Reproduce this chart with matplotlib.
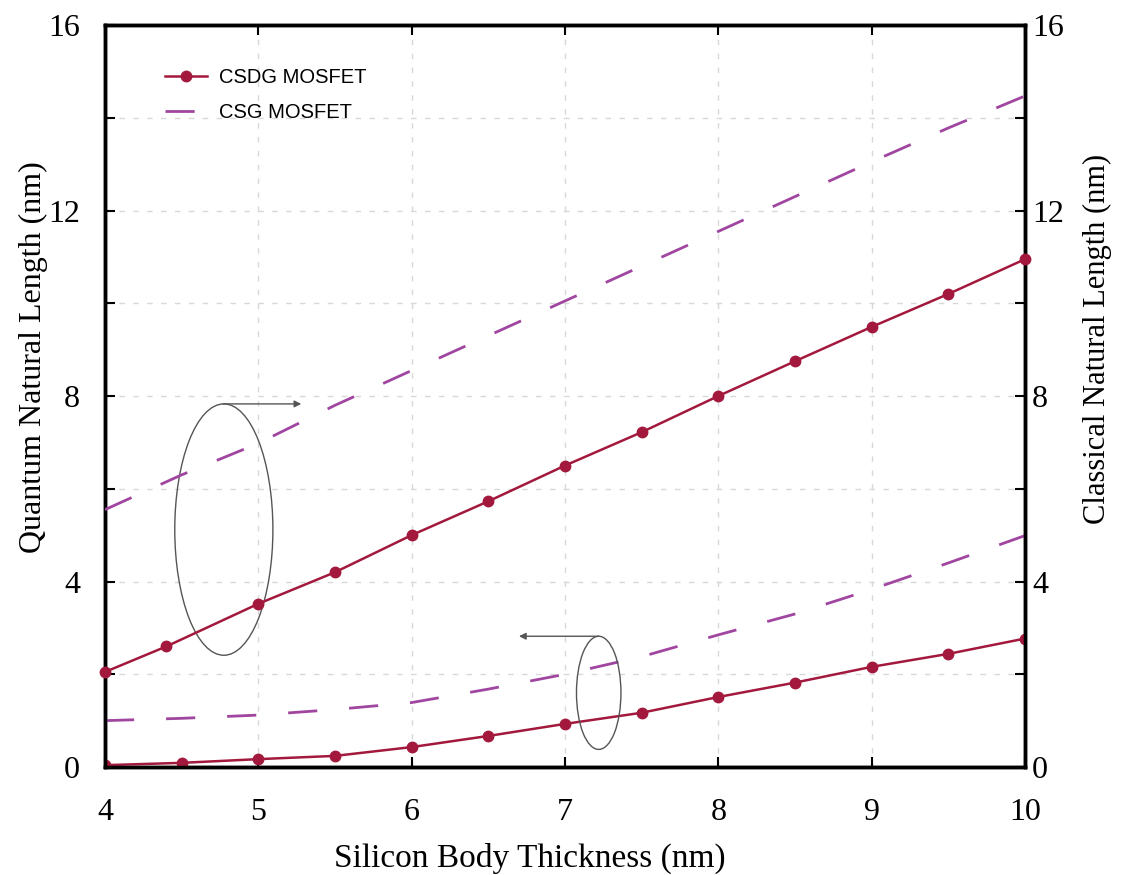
import numpy as np
import matplotlib.pyplot as plt
from matplotlib.patches import Ellipse

# silicon body thickness (nm)
x_quant = [4, 4.5, 5, 5.5, 6, 6.5, 7, 7.5, 8, 8.5, 9, 9.5, 10]
x_class = [4, 4.4, 5, 5.5, 6, 6.5, 7, 7.5, 8, 8.5, 9, 9.5, 10]
x_csg = [4, 4.5, 5, 5.5, 6, 6.5, 7, 7.5, 8, 8.5, 9, 9.5, 10]

# quantum natural length (left axis)
csdg_quant = [0.04, 0.09, 0.17, 0.24, 0.43, 0.67, 0.93, 1.17, 1.51, 1.82, 2.16, 2.44, 2.77]
csg_quant = [1.0, 1.05, 1.12, 1.24, 1.39, 1.68, 2.0, 2.38, 2.85, 3.3, 3.83, 4.4, 4.99]

# classical natural length (right axis)
csdg_class = [2.05, 2.6, 3.52, 4.2, 5.0, 5.73, 6.5, 7.22, 8.0, 8.75, 9.49, 10.2, 10.95]
csg_class = [5.55, 6.3, 6.98, 7.8, 8.55, 9.3, 10.05, 10.8, 11.55, 12.3, 13.05, 13.78, 14.47]

red = '#a3193d'
purple = '#a046a0'
serif = ['Liberation Serif', 'DejaVu Serif']

W, H = 1123, 875
fig = plt.figure(figsize=(W / 100, H / 100), dpi=100)
ax = fig.add_axes([0.0935, 0.1234, 0.8192, 0.848])
ax2 = ax.twinx()

l1, = ax.plot(x_quant, csdg_quant, color=red, lw=1.8, marker='o', ms=7.5,
              label='CSDG MOSFET', zorder=5)
l2, = ax.plot(x_csg, csg_quant, color=purple, lw=2.0, dashes=(10.5, 11.5),
              label='CSG MOSFET', zorder=4)
ax2.plot(x_class, csdg_class, color=red, lw=1.8, marker='o', ms=7.5,
         clip_on=False, zorder=5)
ax2.plot(x_csg, csg_class, color=purple, lw=2.0, dashes=(10.5, 11.5), zorder=4)

for a in (ax, ax2):
    a.set_xlim(4, 10)
    a.set_ylim(0, 16)
    a.set_yticks(np.arange(0, 17, 4))
    a.set_yticks(np.arange(2, 16, 4), minor=True)
    for s in a.spines.values():
        s.set_linewidth(2.5)
    a.tick_params(which='both', direction='in', length=7, width=1.5,
                  labelsize=23)
    for lab in a.get_yticklabels():
        lab.set_family(serif)

ax.tick_params(axis='y', pad=18)
ax2.tick_params(axis='y', pad=5)
ax.set_xticks(np.arange(4, 11, 1))
ax.tick_params(axis='x', top=True, pad=22)
for lab in ax.get_xticklabels():
    lab.set_family(serif)

ax.grid(True, which='both', color='#d8d8d8', lw=1.0, dashes=(4, 6))
ax.set_axisbelow(True)

# axis titles placed where the reference has them
fig.text(530 / W, 1 - 858 / H, 'Silicon Body Thickness (nm)', fontsize=24,
         family=serif, ha='center', va='center')
fig.text(33 / W, 1 - 357 / H, 'Quantum Natural Length (nm)', fontsize=23,
         family=serif, ha='center', va='center', rotation=90)
fig.text(1097 / W, 1 - 339 / H, 'Classical Natural Length (nm)', fontsize=22,
         family=serif, ha='center', va='center', rotation=90)

# ellipse annotations
ax2.add_patch(Ellipse((4.775, 5.12), 0.64, 5.42, fill=False,
                      ec='#555555', lw=1.0))
ax2.annotate('', xy=(5.28, 7.83), xytext=(4.77, 7.83),
             arrowprops=dict(arrowstyle='-|>', color='#555555', lw=1.0,
                             mutation_scale=10, shrinkA=0, shrinkB=0))
ax2.add_patch(Ellipse((7.22, 1.6), 0.29, 2.44, fill=False,
                      ec='#555555', lw=1.0))
ax2.annotate('', xy=(6.7, 2.82), xytext=(7.22, 2.82),
             arrowprops=dict(arrowstyle='-|>', color='#555555', lw=1.0,
                             mutation_scale=10, shrinkA=0, shrinkB=0))

ax2.legend(handles=[l1, l2], loc='upper left', bbox_to_anchor=(0.045, 0.966),
           frameon=False, handlelength=2.1, handletextpad=0.62,
           labelspacing=0.8,
           prop={'family': 'Liberation Sans', 'size': 14.5})

fig.savefig('out.png', dpi=100)
